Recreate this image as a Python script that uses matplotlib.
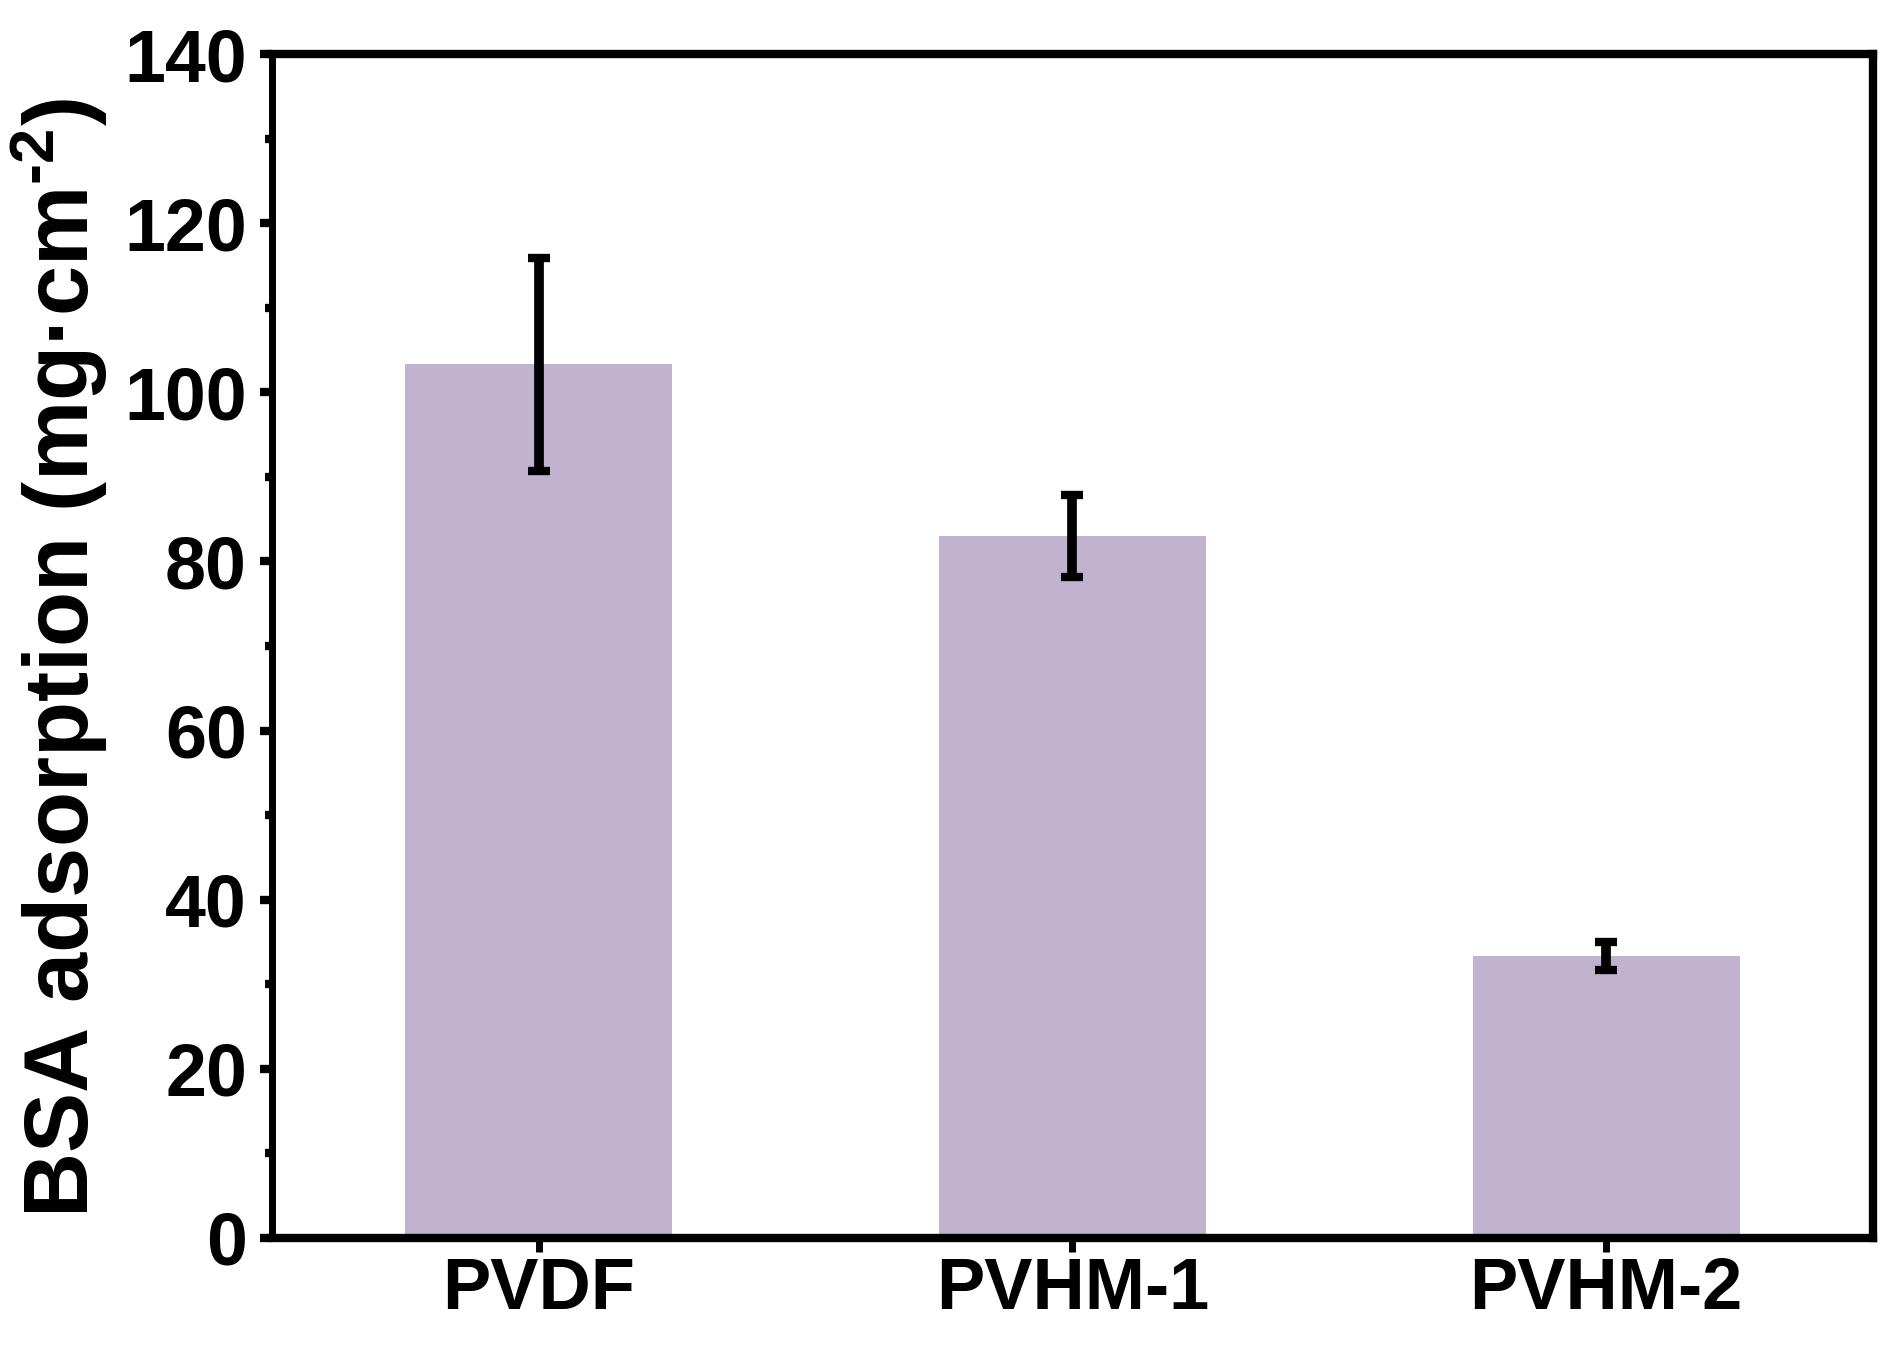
import numpy as np
import matplotlib
matplotlib.use("Agg")
import matplotlib.pyplot as plt
from matplotlib.ticker import MultipleLocator

samples = ["PVDF", "PVHM-1", "PVHM-2"]
bsa_adsorption = [103.3, 83.0, 33.3]
bsa_error = [12.6, 4.8, 1.65]
y_ticks = [0, 20, 40, 60, 80, 100, 120, 140]

plt.rcParams["font.family"] = ["Liberation Sans", "DejaVu Sans"]
plt.rcParams["font.weight"] = "bold"
plt.rcParams["axes.labelweight"] = "bold"
plt.rcParams["mathtext.fontset"] = "custom"
plt.rcParams["mathtext.rm"] = "Liberation Sans:bold"
plt.rcParams["mathtext.bf"] = "Liberation Sans:bold"
plt.rcParams["mathtext.default"] = "bf"

fig, ax = plt.subplots(figsize=(18.95, 13.5), dpi=100)
fig.subplots_adjust(left=0.1435, right=0.9884, bottom=0.083, top=0.96)

positions = np.arange(1, len(samples) + 1)
ax.bar(
    positions, bsa_adsorption, width=0.5, color="#c1b2cf", zorder=2,
    yerr=bsa_error,
    error_kw=dict(ecolor="black", elinewidth=7, capsize=8, capthick=6, zorder=3),
)

ax.set_xlim(0.5, 3.5)
ax.set_ylim(0, 140)
ax.set_xticks(positions)
ax.set_xticklabels(samples)
ax.set_yticks(y_ticks)
ax.yaxis.set_minor_locator(MultipleLocator(10))

for side in ["top", "bottom", "right"]:
    ax.spines[side].set_linewidth(6)
ax.spines["left"].set_linewidth(5)

ax.tick_params(axis="y", which="major", direction="out", length=9, width=6,
               labelsize=53, pad=9)
ax.tick_params(axis="y", which="minor", direction="out", length=5, width=6)
ax.tick_params(axis="x", which="major", direction="out", length=10, width=5,
               labelsize=52, pad=3)
ax.tick_params(top=False, right=False, which="both")

ax.set_ylabel(r"BSA adsorption (mg·cm$^{\text{-}2}$)", fontsize=65,
              fontweight="bold")
ax.yaxis.set_label_coords(-0.101, 0.49)

plt.savefig("out.png", dpi=100)
